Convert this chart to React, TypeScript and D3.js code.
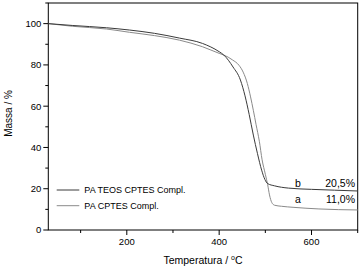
import React from "react";
import * as d3 from "d3";

const tempB = [30, 83, 156, 206, 260, 314, 364, 400, 410, 430, 446, 456, 465, 474, 483, 492, 499, 505, 520, 550, 600, 650, 700];
const massB = [100, 99.1, 98.0, 96.9, 95.3, 93.0, 90.4, 86.4, 84.8, 79.0, 72.7, 65.0, 56.0, 46.0, 37.0, 29.0, 24.5, 22.5, 21.4, 20.3, 19.7, 19.3, 18.9];

const tempA = [30, 83, 156, 206, 260, 314, 364, 400, 410, 429, 443, 452, 461, 468, 474, 480, 487, 493, 500, 505, 509, 514, 520, 535, 560, 616, 700];
const massA = [100, 98.7, 97.4, 95.8, 94.2, 92.0, 88.8, 85.6, 84.8, 82.4, 79.8, 76.5, 71.0, 64.5, 58.0, 51.0, 43.0, 34.0, 27.0, 22.0, 17.0, 13.3, 12.0, 11.5, 11.0, 10.2, 9.7];

const xMajor = [200, 400, 600];
const xMinor = [100, 300, 500, 700];
const yMajor = [0, 20, 40, 60, 80, 100];
const yMinor = [10, 30, 50, 70, 90, 110];

const legendLabels = ["PA TEOS CPTES Compl.", "PA CPTES Compl."];
const curveLetters = ["b", "a"];
const residues = ["20,5%", "11,0%"];

export default function App() {
  const W = 362, H = 268;
  const L = 48.3, R = 357.7, T = 3, B = 230;
  const x = d3.scaleLinear().domain([30, 700]).range([L, R]);
  const y = d3.scaleLinear().domain([0, 110]).range([B, T]);
  const line = d3.line<[number, number]>().x(d => x(d[0])).y(d => y(d[1])).curve(d3.curveMonotoneX);
  const dB = line(tempB.map((t, i) => [t, massB[i]] as [number, number])) || "";
  const dA = line(tempA.map((t, i) => [t, massA[i]] as [number, number])) || "";
  const font = "Arial, 'Liberation Sans', sans-serif";
  const dark = "#3a3a3a", light = "#8a8a8a";
  return (
    <>
      <style>{"body{margin:0}"}</style>
      <svg width={W} height={H} style={{ display: "block", background: "#fff" }} fontFamily={font}>
        <rect x={L} y={T} width={R - L} height={B - T} fill="none" stroke="#000" strokeWidth={1} />
        <path d={dA} fill="none" stroke={light} strokeWidth={1} />
        <path d={dB} fill="none" stroke={dark} strokeWidth={1} />
        {xMajor.map(v => (
          <g key={"xM" + v}>
            <line x1={x(v)} x2={x(v)} y1={B} y2={B + 5} stroke="#000" />
            <text x={x(v)} y={245} fontSize={9.5} textAnchor="middle">{v}</text>
          </g>
        ))}
        {xMinor.map(v => (
          <line key={"xm" + v} x1={x(v)} x2={x(v)} y1={B} y2={B + 3} stroke="#000" />
        ))}
        {yMajor.map(v => (
          <g key={"yM" + v}>
            <line x1={L - 5} x2={L} y1={y(v)} y2={y(v)} stroke="#000" />
            <text x={L - 7} y={y(v) + 3.4} fontSize={9.5} textAnchor="end">{v}</text>
          </g>
        ))}
        {yMinor.map(v => (
          <line key={"ym" + v} x1={L - 3} x2={L} y1={y(v)} y2={y(v)} stroke="#000" />
        ))}
        <text x={203} y={264} fontSize={10.5} textAnchor="middle">
          Temperatura / <tspan fontSize={7} dy={-4}>o</tspan><tspan dy={4}>C</tspan>
        </text>
        <text transform={`translate(12,${(T + B) / 2 - 3}) rotate(-90)`} fontSize={10} textAnchor="middle">Massa / %</text>
        {legendLabels.map((lab, i) => (
          <g key={lab}>
            <line x1={56.7} x2={79.3} y1={190 + i * 15.7} y2={190 + i * 15.7} stroke={i === 0 ? dark : light} />
            <text x={84.3} y={193.3 + i * 15.7} fontSize={9}>{lab}</text>
          </g>
        ))}
        {curveLetters.map((c, i) => (
          <g key={c}>
            <text x={298} y={186.7 + i * 15.8} fontSize={10.5} textAnchor="middle">{c}</text>
            <text x={355} y={186.7 + i * 15.8} fontSize={10.5} textAnchor="end">{residues[i]}</text>
          </g>
        ))}
      </svg>
    </>
  );
}
